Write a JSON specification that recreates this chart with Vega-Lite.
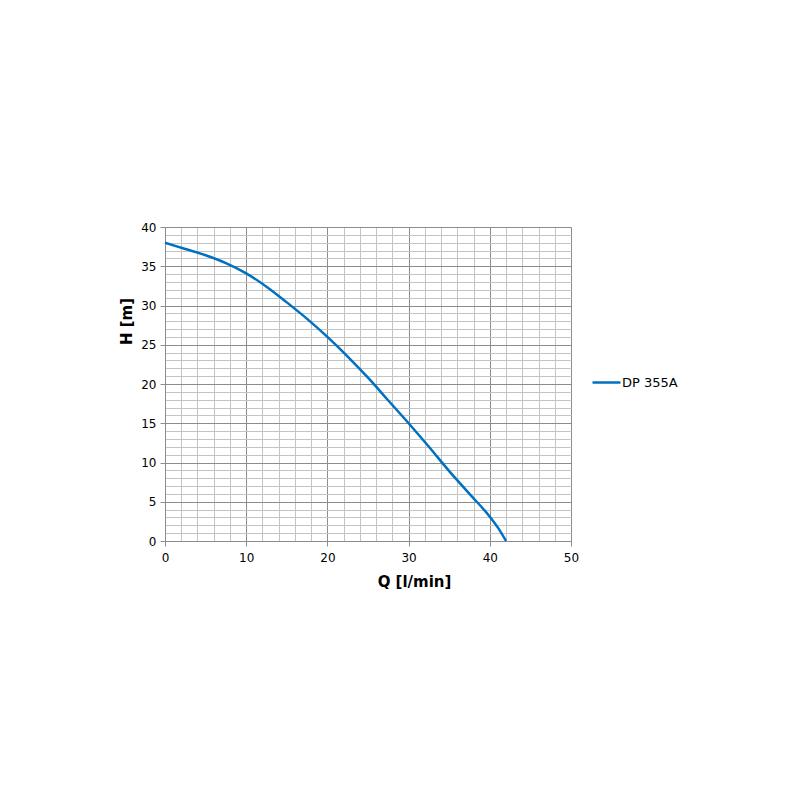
{
  "$schema": "https://vega.github.io/schema/vega-lite/v6.json",
  "autosize": "none",
  "width": 406,
  "height": 314,
  "padding": {"left": 165, "top": 227, "right": 229, "bottom": 259},
  "background": "white",
  "config": {
    "view": {"stroke": null},
    "font": "DejaVu Sans",
    "axis": {"labelFont": "DejaVu Sans", "titleFont": "DejaVu Sans", "labelColor": "#000", "titleColor": "#000"}
  },
  "data": {
    "values": [
      {"Q": 0, "H": 38.0, "series": "DP 355A"},
      {"Q": 2.5, "H": 37.2, "series": "DP 355A"},
      {"Q": 5, "H": 36.4, "series": "DP 355A"},
      {"Q": 7.5, "H": 35.4, "series": "DP 355A"},
      {"Q": 10, "H": 34.1, "series": "DP 355A"},
      {"Q": 12.5, "H": 32.4, "series": "DP 355A"},
      {"Q": 15, "H": 30.4, "series": "DP 355A"},
      {"Q": 17.5, "H": 28.3, "series": "DP 355A"},
      {"Q": 20, "H": 26.0, "series": "DP 355A"},
      {"Q": 22.5, "H": 23.5, "series": "DP 355A"},
      {"Q": 25, "H": 20.8, "series": "DP 355A"},
      {"Q": 27.5, "H": 17.9, "series": "DP 355A"},
      {"Q": 30, "H": 15.0, "series": "DP 355A"},
      {"Q": 32.5, "H": 12.0, "series": "DP 355A"},
      {"Q": 35, "H": 8.9, "series": "DP 355A"},
      {"Q": 37.5, "H": 6.0, "series": "DP 355A"},
      {"Q": 40, "H": 3.1, "series": "DP 355A"},
      {"Q": 41, "H": 1.7, "series": "DP 355A"},
      {"Q": 42, "H": 0.0, "series": "DP 355A"}
    ]
  },
  "resolve": {"axis": {"x": "independent", "y": "independent"}},
  "layer": [
    {
      "mark": {"type": "line", "opacity": 0},
      "encoding": {
        "x": {"field": "Q", "type": "quantitative", "scale": {"domain": [0, 50], "nice": false},
          "axis": {"orient": "bottom", "values": [2,4,6,8,12,14,16,18,22,24,26,28,32,34,36,38,42,44,46,48], "grid": true, "gridColor": "#c4c4c4", "gridWidth": 1, "labels": false, "ticks": false, "domain": false, "title": null}},
        "y": {"field": "H", "type": "quantitative", "scale": {"domain": [0, 40], "nice": false},
          "axis": {"orient": "left", "values": [1,2,3,4,6,7,8,9,11,12,13,14,16,17,18,19,21,22,23,24,26,27,28,29,31,32,33,34,36,37,38,39], "grid": true, "gridColor": "#c4c4c4", "gridWidth": 1, "labels": false, "ticks": false, "domain": false, "title": null}}
      }
    },
    {
      "mark": {"type": "line", "strokeWidth": 2.5, "interpolate": "monotone"},
      "encoding": {
        "x": {"field": "Q", "type": "quantitative", "scale": {"domain": [0, 50], "nice": false},
          "axis": {"orient": "bottom", "values": [0,10,20,30,40,50], "grid": true, "gridColor": "#8c8c8c", "gridWidth": 1, "domainColor": "#8c8c8c", "tickColor": "#8c8c8c", "tickSize": 5, "labelFontSize": 12, "labelPadding": 6, "labelFlush": false, "labelOverlap": false, "title": "Q [l/min]", "titleFontSize": 15, "titleFontWeight": "bold", "titleAlign": "center", "titleBaseline": "middle", "titleX": 249, "titleY": 40}},
        "y": {"field": "H", "type": "quantitative", "scale": {"domain": [0, 40], "nice": false},
          "axis": {"orient": "left", "values": [0,5,10,15,20,25,30,35,40], "grid": true, "gridColor": "#8c8c8c", "gridWidth": 1, "domainColor": "#8c8c8c", "tickColor": "#8c8c8c", "tickSize": 5, "labelFontSize": 12, "labelPadding": 4, "labelFlush": false, "title": "H [m]", "titleFontSize": 15, "titleFontWeight": "bold", "titleAlign": "center", "titleBaseline": "middle", "titleAngle": -90, "titleX": -39, "titleY": 94}},
        "color": {"field": "series", "type": "nominal", "scale": {"range": ["#0070C0"]},
          "legend": {"orient": "none", "legendX": 426, "legendY": 140, "title": null, "symbolType": "stroke", "symbolSize": 784, "symbolStrokeWidth": 2.5, "labelFontSize": 13, "labelColor": "#000", "labelFont": "DejaVu Sans", "labelOffset": 0}}
      }
    }
  ]
}
